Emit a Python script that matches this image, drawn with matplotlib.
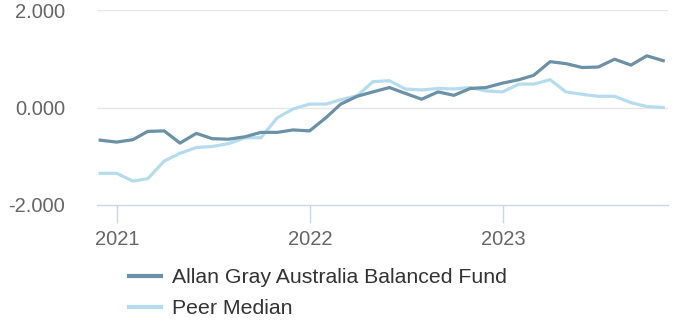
import numpy as np
import pandas as pd
import matplotlib.pyplot as plt
import matplotlib.dates as mdates

plt.rcParams['font.family'] = ['Liberation Sans', 'DejaVu Sans']

# Monthly rolling values, Nov 2020 - Oct 2023
dates = pd.date_range('2020-11-30', periods=36, freq='ME')
fund = [-0.67, -0.71, -0.66, -0.49, -0.48, -0.73, -0.53, -0.64, -0.65, -0.60, -0.51, -0.51,
        -0.46, -0.48, -0.21, 0.07, 0.23, 0.32, 0.41, 0.29, 0.17, 0.32, 0.25, 0.39,
        0.41, 0.50, 0.57, 0.66, 0.94, 0.90, 0.82, 0.83, 0.99, 0.87, 1.06, 0.96]
peer = [-1.35, -1.35, -1.51, -1.46, -1.10, -0.94, -0.82, -0.80, -0.74, -0.62, -0.62, -0.21,
        -0.03, 0.07, 0.07, 0.16, 0.24, 0.53, 0.55, 0.38, 0.36, 0.39, 0.38, 0.41,
        0.34, 0.32, 0.48, 0.48, 0.57, 0.32, 0.27, 0.23, 0.23, 0.10, 0.02, 0.00]
series_names = ['Allan Gray Australia Balanced Fund', 'Peer Median']
series_colors = ['#6a91a6', '#b5dcee']
yticks = [-2, 0, 2]
xticks = ['2021-01-01', '2022-01-01', '2023-01-01']

fig = plt.figure(figsize=(6.76, 3.2), dpi=100)
ax = fig.add_axes([97 / 676, 115 / 320, 571 / 676, 195 / 320])

ax.plot(dates, peer, color=series_colors[1], lw=2.3, label=series_names[1], zorder=3)
ax.plot(dates, fund, color=series_colors[0], lw=2.3, label=series_names[0], zorder=4)

ax.set_ylim(-2, 2)
ax.set_yticks(yticks)
ax.set_yticklabels([f'{v:.3f}' for v in yticks])
ax.set_xlim(pd.Timestamp('2020-11-24'), pd.Timestamp('2023-11-09'))
ax.set_xticks(pd.to_datetime(xticks))
ax.xaxis.set_major_formatter(mdates.DateFormatter('%Y'))

for y in [0, 2]:
    ax.axhline(y, color='#e6e6e6', lw=1, zorder=1)

for s in ['top', 'right', 'left']:
    ax.spines[s].set_visible(False)
ax.spines['bottom'].set_color('#ccd6eb')
ax.spines['bottom'].set_linewidth(1)

ax.tick_params(axis='y', length=0, pad=23, labelsize=14.5, labelcolor='#666666')
ax.tick_params(axis='x', length=13, width=1, color='#ccd6eb', pad=5,
               labelsize=14.5, labelcolor='#666666')

handles, labels = ax.get_legend_handles_labels()
leg = fig.legend(handles[::-1], labels[::-1], loc='upper left',
                 bbox_to_anchor=(129 / 676, 1 - 268 / 320), frameon=False,
                 fontsize=15.3, handlelength=1.5, handletextpad=0.5,
                 labelspacing=0.58, borderpad=0, borderaxespad=0)
for t in leg.get_texts():
    t.set_color('#333333')
for h in leg.legend_handles:
    h.set_linewidth(3)

fig.savefig('out.png', dpi=100)
